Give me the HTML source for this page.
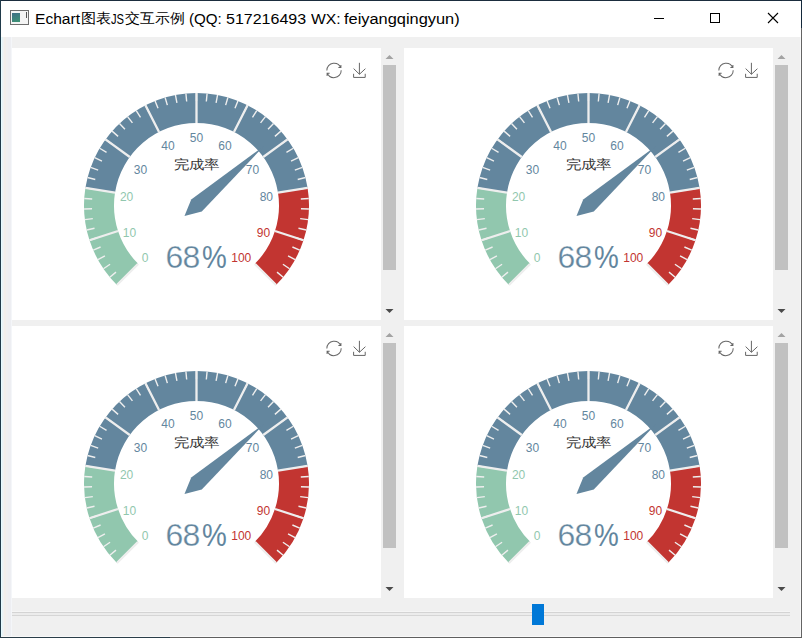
<!DOCTYPE html>
<html><head><meta charset="utf-8">
<style>
*{margin:0;padding:0;box-sizing:border-box}
html,body{width:802px;height:638px;overflow:hidden;background:#f0f0f0;font-family:"Liberation Sans",sans-serif}
.a{position:absolute}
#win{position:absolute;left:0;top:0;width:802px;height:638px;background:#f0f0f0}
#tb{position:absolute;left:1px;top:1px;width:800px;height:36px;background:#fff}
.ts{position:absolute;top:10.5px;font-size:14px;line-height:16px;color:#000;white-space:nowrap;transform-origin:0 0}
.pn{position:absolute;width:369px;height:272px;background:#fff}
.sb{position:absolute;width:17px;height:272px;background:#f0f0f0}
.th{position:absolute;left:2px;top:17px;width:13px;height:205px;background:#c1c1c1}
.lb{font-size:12px}
.tt{font-size:15px;fill:#333}
.dt{font-size:32px;fill:#63869e;stroke:#fff;stroke-width:0.3px}
svg{position:absolute;left:0;top:0}
</style></head><body>
<div id="win"></div>
<div class="a" style="left:0;top:0;width:802px;height:1px;background:#1b2d3e"></div>
<div class="a" style="left:0;top:0;width:1px;height:638px;background:#203a4a"></div>
<div class="a" style="left:801px;top:0;width:1px;height:28px;background:#13283a"></div>
<div class="a" style="left:801px;top:28px;width:1px;height:610px;background:#646464"></div>
<div class="a" style="left:0;top:637px;width:170px;height:1px;background:#2a3d48"></div>
<div class="a" style="left:170px;top:637px;width:632px;height:1px;background:#5e5e5e"></div>
<div class="a" style="left:1px;top:37px;width:11px;height:600px;background:linear-gradient(90deg,#e6fbff 0,#e6fbff 1px,#e8f2f6 1px,#e8f2f6 2px,#f0f2f2 2px,#f0f2f2 3px,#f2eeeb 3px,#f2eeeb 5px,#efeff0 5px,#efeff0 7px,#edeef2 7px,#edeef2 10px,#f4f6f9 10px)"></div>
<div class="a" style="left:1px;top:636px;width:800px;height:1px;background:#f8f8f8"></div>
<div class="a" style="left:800px;top:37px;width:1px;height:600px;background:#f8f8f8"></div>
<div id="tb"></div>
<div class="a" style="left:10px;top:10px;width:19px;height:15px;border:1px solid #6e6e6e;background:#f4f4f4"></div>
<div class="a" style="left:12px;top:13px;width:8px;height:9px;background:linear-gradient(160deg,#3f6e86,#3d9474)"></div>
<div class="a" style="left:26px;top:12px;width:1px;height:6px;background:#555"></div>
<div class="ts" style="left:35.39px;top:10.5px;transform:scaleX(1.1128)">Echart</div>
<div class="ts" style="left:81.12px;top:9.5px;transform:scaleX(1.0769)">图表</div>
<div class="ts" style="left:110.50px;top:10.5px;transform:scaleX(0.8000)">JS</div>
<div class="ts" style="left:124.94px;top:9.5px;transform:scaleX(1.0611)">交互示例</div>
<div class="ts" style="left:189.42px;top:10.5px;transform:scaleX(1.0821)">(QQ:</div>
<div class="ts" style="left:225.66px;top:10.5px;transform:scaleX(1.1435)">517216493</div>
<div class="ts" style="left:310.88px;top:10.5px;transform:scaleX(1.1200)">WX:</div>
<div class="ts" style="left:343.83px;top:10.5px;transform:scaleX(1.1704)">feiyangqingyun)</div>

<div class="a" style="left:654px;top:18px;width:10px;height:1px;background:#000"></div>
<div class="a" style="left:710px;top:13px;width:10px;height:10px;border:1px solid #000"></div>
<svg class="a" style="left:767px;top:12px" width="12" height="12" viewBox="0 0 12 12"><path d="M1 1L11 11M11 1L1 11" stroke="#000" stroke-width="1.1" fill="none"/></svg>
<div class="pn" style="left:12px;top:48px"></div>
<div class="sb" style="left:381px;top:48px"><div class="th"></div><svg style="left:0;top:0" width="17" height="272"><path d="M4.5 11L8.5 7L12.5 11Z" fill="#a3a3a3"/><path d="M4.5 261L8.5 265L12.5 261Z" fill="#4a4a4a"/></svg></div>
<div class="pn" style="left:404px;top:48px"></div>
<div class="sb" style="left:773px;top:48px"><div class="th"></div><svg style="left:0;top:0" width="17" height="272"><path d="M4.5 11L8.5 7L12.5 11Z" fill="#a3a3a3"/><path d="M4.5 261L8.5 265L12.5 261Z" fill="#4a4a4a"/></svg></div>
<div class="pn" style="left:12px;top:326px"></div>
<div class="sb" style="left:381px;top:326px"><div class="th"></div><svg style="left:0;top:0" width="17" height="272"><path d="M4.5 11L8.5 7L12.5 11Z" fill="#a3a3a3"/><path d="M4.5 261L8.5 265L12.5 261Z" fill="#4a4a4a"/></svg></div>
<div class="pn" style="left:404px;top:326px"></div>
<div class="sb" style="left:773px;top:326px"><div class="th"></div><svg style="left:0;top:0" width="17" height="272"><path d="M4.5 11L8.5 7L12.5 11Z" fill="#a3a3a3"/><path d="M4.5 261L8.5 265L12.5 261Z" fill="#4a4a4a"/></svg></div>
<div class="a" style="left:12px;top:611px;width:778px;height:1px;background:#f5f5f5"></div>
<div class="a" style="left:12px;top:612px;width:778px;height:1px;background:#d4d4d4"></div>
<div class="a" style="left:12px;top:613px;width:778px;height:2px;background:#ececec"></div>
<div class="a" style="left:12px;top:615px;width:778px;height:1px;background:#d6d6d6"></div>
<div class="a" style="left:532px;top:604px;width:12px;height:21px;background:#0078d7"></div>
<svg width="802" height="638">
<path d="M116.95 285.05A112.5 112.5 0 0 1 85.39 187.9L115.02 192.59A82.5 82.5 0 0 0 138.16 263.84Z" fill="#91c7ae"/>
<path d="M85.39 187.9A112.5 112.5 0 0 1 307.61 187.9L277.98 192.59A82.5 82.5 0 0 0 115.02 192.59Z" fill="#63869e"/>
<path d="M307.61 187.9A112.5 112.5 0 0 1 276.05 285.05L254.84 263.84A82.5 82.5 0 0 0 277.98 192.59Z" fill="#c23531"/>
<path d="M116.95 285.05L122.61 279.39M109.82 277.21L115.98 272.11M103.45 268.73L110.07 264.24M97.92 259.7L104.93 255.84M93.25 250.18L100.59 247M89.51 240.26L97.11 237.79M89.51 240.26L97.11 237.79M86.71 230.04L94.52 228.3M84.89 219.6L92.82 218.6M84.06 209.03L92.05 208.78M84.22 198.44L92.21 198.94M85.39 187.9L93.29 189.15M85.39 187.9L93.29 189.15M87.53 177.52L95.28 179.51M90.65 167.39L98.18 170.1M94.71 157.6L101.95 161.01M99.67 148.23L106.55 152.31M105.49 139.37L111.96 144.08M105.49 139.37L111.96 144.08M112.11 131.1L118.11 136.39M119.49 123.49L124.96 129.32M127.55 116.61L132.45 122.93M136.22 110.51L140.51 117.27M145.43 105.26L149.06 112.39M145.43 105.26L149.06 112.39M155.09 100.9L158.03 108.34M165.11 97.47L167.35 105.15M175.42 94.99L176.92 102.85M185.91 93.5L186.67 101.46M196.5 93L196.5 101M196.5 93L196.5 101M207.09 93.5L206.33 101.46M217.58 94.99L216.08 102.85M227.89 97.47L225.65 105.15M237.91 100.9L234.97 108.34M247.57 105.26L243.94 112.39M247.57 105.26L243.94 112.39M256.78 110.51L252.49 117.27M265.45 116.61L260.55 122.93M273.51 123.49L268.04 129.32M280.89 131.1L274.89 136.39M287.51 139.37L281.04 144.08M287.51 139.37L281.04 144.08M293.33 148.23L286.45 152.31M298.29 157.6L291.05 161.01M302.35 167.39L294.82 170.1M305.47 177.52L297.72 179.51M307.61 187.9L299.71 189.15M307.61 187.9L299.71 189.15M308.78 198.44L300.79 198.94M308.94 209.03L300.95 208.78M308.11 219.6L300.18 218.6M306.29 230.04L298.48 228.3M303.49 240.26L295.89 237.79M303.49 240.26L295.89 237.79M299.75 250.18L292.41 247M295.08 259.7L288.07 255.84M289.55 268.73L282.93 264.24M283.18 277.21L277.02 272.11M276.05 285.05L270.39 279.39" stroke="#eee" stroke-width="1.4" fill="none"/>
<path d="M116.95 285.05L138.16 263.84M89.51 240.26L118.04 230.99M85.39 187.9L115.02 192.59M105.49 139.37L129.76 157.01M145.43 105.26L159.05 131.99M196.5 93L196.5 123M247.57 105.26L233.95 131.99M287.51 139.37L263.24 157.01M307.61 187.9L277.98 192.59M303.49 240.26L274.96 230.99M276.05 285.05L254.84 263.84" stroke="#eee" stroke-width="2.3" fill="none"/>
<text x="141.7" y="261.9" text-anchor="start" fill="#91c7ae" class="lb">0</text>
<text x="122.79" y="236.95" text-anchor="start" fill="#91c7ae" class="lb">10</text>
<text x="119.95" y="200.88" text-anchor="start" fill="#91c7ae" class="lb">20</text>
<text x="133.8" y="173.55" text-anchor="start" fill="#63869e" class="lb">30</text>
<text x="161.32" y="150.05" text-anchor="start" fill="#63869e" class="lb">40</text>
<text x="196.5" y="141.6" text-anchor="middle" fill="#63869e" class="lb">50</text>
<text x="231.68" y="150.05" text-anchor="end" fill="#63869e" class="lb">60</text>
<text x="259.2" y="173.55" text-anchor="end" fill="#63869e" class="lb">70</text>
<text x="273.05" y="200.88" text-anchor="end" fill="#63869e" class="lb">80</text>
<text x="270.21" y="236.95" text-anchor="end" fill="#c23531" class="lb">90</text>
<text x="251.3" y="261.9" text-anchor="end" fill="#c23531" class="lb">100</text>
<text transform="translate(196.4 169.2) scale(1.02 0.86)" text-anchor="middle" class="tt">完成率</text>
<text x="165.6" y="268.1" class="dt" letter-spacing="-0.8">68</text>
<text transform="translate(201.9 268.1) scale(0.87 1)" class="dt" style="stroke-width:0">%</text>
<path d="M184.5 216.08L191.21 199.5L264.01 145.98L201.79 211.5Z" fill="#63869e"/>
<g transform="translate(326.3 62.7) scale(0.25729)"><path d="M47,18.9h9.8V8.7M56.3,20.1C52.1,9,40.5,0.6,26.8,2.1C12.6,3.7,1.6,16.2,2.1,30.6M13,41.1H3.1v10.2M3.7,39.9c4.2,11.1,15.8,19.5,29.5,18c14.2-1.6,25.2-14.1,24.7-28.5" fill="none" stroke="#666" stroke-width="3.887"/></g>
<g transform="translate(352.51 62.8) scale(0.23600 0.25200)"><path d="M4.7,22.9L29.3,45.5L54.7,23.4M4.6,43.6L4.6,58L53.8,58L53.8,43.6M29.2,45.1L29.2,0" fill="none" stroke="#666" stroke-width="1" vector-effect="non-scaling-stroke"/></g>
<path d="M508.95 285.05A112.5 112.5 0 0 1 477.39 187.9L507.02 192.59A82.5 82.5 0 0 0 530.16 263.84Z" fill="#91c7ae"/>
<path d="M477.39 187.9A112.5 112.5 0 0 1 699.61 187.9L669.98 192.59A82.5 82.5 0 0 0 507.02 192.59Z" fill="#63869e"/>
<path d="M699.61 187.9A112.5 112.5 0 0 1 668.05 285.05L646.84 263.84A82.5 82.5 0 0 0 669.98 192.59Z" fill="#c23531"/>
<path d="M508.95 285.05L514.61 279.39M501.82 277.21L507.98 272.11M495.45 268.73L502.07 264.24M489.92 259.7L496.93 255.84M485.25 250.18L492.59 247M481.51 240.26L489.11 237.79M481.51 240.26L489.11 237.79M478.71 230.04L486.52 228.3M476.89 219.6L484.82 218.6M476.06 209.03L484.05 208.78M476.22 198.44L484.21 198.94M477.39 187.9L485.29 189.15M477.39 187.9L485.29 189.15M479.53 177.52L487.28 179.51M482.65 167.39L490.18 170.1M486.71 157.6L493.95 161.01M491.67 148.23L498.55 152.31M497.49 139.37L503.96 144.08M497.49 139.37L503.96 144.08M504.11 131.1L510.11 136.39M511.49 123.49L516.96 129.32M519.55 116.61L524.45 122.93M528.22 110.51L532.51 117.27M537.43 105.26L541.06 112.39M537.43 105.26L541.06 112.39M547.09 100.9L550.03 108.34M557.11 97.47L559.35 105.15M567.42 94.99L568.92 102.85M577.91 93.5L578.67 101.46M588.5 93L588.5 101M588.5 93L588.5 101M599.09 93.5L598.33 101.46M609.58 94.99L608.08 102.85M619.89 97.47L617.65 105.15M629.91 100.9L626.97 108.34M639.57 105.26L635.94 112.39M639.57 105.26L635.94 112.39M648.78 110.51L644.49 117.27M657.45 116.61L652.55 122.93M665.51 123.49L660.04 129.32M672.89 131.1L666.89 136.39M679.51 139.37L673.04 144.08M679.51 139.37L673.04 144.08M685.33 148.23L678.45 152.31M690.29 157.6L683.05 161.01M694.35 167.39L686.82 170.1M697.47 177.52L689.72 179.51M699.61 187.9L691.71 189.15M699.61 187.9L691.71 189.15M700.78 198.44L692.79 198.94M700.94 209.03L692.95 208.78M700.11 219.6L692.18 218.6M698.29 230.04L690.48 228.3M695.49 240.26L687.89 237.79M695.49 240.26L687.89 237.79M691.75 250.18L684.41 247M687.08 259.7L680.07 255.84M681.55 268.73L674.93 264.24M675.18 277.21L669.02 272.11M668.05 285.05L662.39 279.39" stroke="#eee" stroke-width="1.4" fill="none"/>
<path d="M508.95 285.05L530.16 263.84M481.51 240.26L510.04 230.99M477.39 187.9L507.02 192.59M497.49 139.37L521.76 157.01M537.43 105.26L551.05 131.99M588.5 93L588.5 123M639.57 105.26L625.95 131.99M679.51 139.37L655.24 157.01M699.61 187.9L669.98 192.59M695.49 240.26L666.96 230.99M668.05 285.05L646.84 263.84" stroke="#eee" stroke-width="2.3" fill="none"/>
<text x="533.7" y="261.9" text-anchor="start" fill="#91c7ae" class="lb">0</text>
<text x="514.79" y="236.95" text-anchor="start" fill="#91c7ae" class="lb">10</text>
<text x="511.95" y="200.88" text-anchor="start" fill="#91c7ae" class="lb">20</text>
<text x="525.8" y="173.55" text-anchor="start" fill="#63869e" class="lb">30</text>
<text x="553.32" y="150.05" text-anchor="start" fill="#63869e" class="lb">40</text>
<text x="588.5" y="141.6" text-anchor="middle" fill="#63869e" class="lb">50</text>
<text x="623.68" y="150.05" text-anchor="end" fill="#63869e" class="lb">60</text>
<text x="651.2" y="173.55" text-anchor="end" fill="#63869e" class="lb">70</text>
<text x="665.05" y="200.88" text-anchor="end" fill="#63869e" class="lb">80</text>
<text x="662.21" y="236.95" text-anchor="end" fill="#c23531" class="lb">90</text>
<text x="643.3" y="261.9" text-anchor="end" fill="#c23531" class="lb">100</text>
<text transform="translate(588.4 169.2) scale(1.02 0.86)" text-anchor="middle" class="tt">完成率</text>
<text x="557.6" y="268.1" class="dt" letter-spacing="-0.8">68</text>
<text transform="translate(593.9 268.1) scale(0.87 1)" class="dt" style="stroke-width:0">%</text>
<path d="M576.5 216.08L583.21 199.5L656.01 145.98L593.79 211.5Z" fill="#63869e"/>
<g transform="translate(718.3 62.7) scale(0.25729)"><path d="M47,18.9h9.8V8.7M56.3,20.1C52.1,9,40.5,0.6,26.8,2.1C12.6,3.7,1.6,16.2,2.1,30.6M13,41.1H3.1v10.2M3.7,39.9c4.2,11.1,15.8,19.5,29.5,18c14.2-1.6,25.2-14.1,24.7-28.5" fill="none" stroke="#666" stroke-width="3.887"/></g>
<g transform="translate(744.51 62.8) scale(0.23600 0.25200)"><path d="M4.7,22.9L29.3,45.5L54.7,23.4M4.6,43.6L4.6,58L53.8,58L53.8,43.6M29.2,45.1L29.2,0" fill="none" stroke="#666" stroke-width="1" vector-effect="non-scaling-stroke"/></g>
<path d="M116.95 563.05A112.5 112.5 0 0 1 85.39 465.9L115.02 470.59A82.5 82.5 0 0 0 138.16 541.84Z" fill="#91c7ae"/>
<path d="M85.39 465.9A112.5 112.5 0 0 1 307.61 465.9L277.98 470.59A82.5 82.5 0 0 0 115.02 470.59Z" fill="#63869e"/>
<path d="M307.61 465.9A112.5 112.5 0 0 1 276.05 563.05L254.84 541.84A82.5 82.5 0 0 0 277.98 470.59Z" fill="#c23531"/>
<path d="M116.95 563.05L122.61 557.39M109.82 555.21L115.98 550.11M103.45 546.73L110.07 542.24M97.92 537.7L104.93 533.84M93.25 528.18L100.59 525M89.51 518.26L97.11 515.79M89.51 518.26L97.11 515.79M86.71 508.04L94.52 506.3M84.89 497.6L92.82 496.6M84.06 487.03L92.05 486.78M84.22 476.44L92.21 476.94M85.39 465.9L93.29 467.15M85.39 465.9L93.29 467.15M87.53 455.52L95.28 457.51M90.65 445.39L98.18 448.1M94.71 435.6L101.95 439.01M99.67 426.23L106.55 430.31M105.49 417.37L111.96 422.08M105.49 417.37L111.96 422.08M112.11 409.1L118.11 414.39M119.49 401.49L124.96 407.32M127.55 394.61L132.45 400.93M136.22 388.51L140.51 395.27M145.43 383.26L149.06 390.39M145.43 383.26L149.06 390.39M155.09 378.9L158.03 386.34M165.11 375.47L167.35 383.15M175.42 372.99L176.92 380.85M185.91 371.5L186.67 379.46M196.5 371L196.5 379M196.5 371L196.5 379M207.09 371.5L206.33 379.46M217.58 372.99L216.08 380.85M227.89 375.47L225.65 383.15M237.91 378.9L234.97 386.34M247.57 383.26L243.94 390.39M247.57 383.26L243.94 390.39M256.78 388.51L252.49 395.27M265.45 394.61L260.55 400.93M273.51 401.49L268.04 407.32M280.89 409.1L274.89 414.39M287.51 417.37L281.04 422.08M287.51 417.37L281.04 422.08M293.33 426.23L286.45 430.31M298.29 435.6L291.05 439.01M302.35 445.39L294.82 448.1M305.47 455.52L297.72 457.51M307.61 465.9L299.71 467.15M307.61 465.9L299.71 467.15M308.78 476.44L300.79 476.94M308.94 487.03L300.95 486.78M308.11 497.6L300.18 496.6M306.29 508.04L298.48 506.3M303.49 518.26L295.89 515.79M303.49 518.26L295.89 515.79M299.75 528.18L292.41 525M295.08 537.7L288.07 533.84M289.55 546.73L282.93 542.24M283.18 555.21L277.02 550.11M276.05 563.05L270.39 557.39" stroke="#eee" stroke-width="1.4" fill="none"/>
<path d="M116.95 563.05L138.16 541.84M89.51 518.26L118.04 508.99M85.39 465.9L115.02 470.59M105.49 417.37L129.76 435.01M145.43 383.26L159.05 409.99M196.5 371L196.5 401M247.57 383.26L233.95 409.99M287.51 417.37L263.24 435.01M307.61 465.9L277.98 470.59M303.49 518.26L274.96 508.99M276.05 563.05L254.84 541.84" stroke="#eee" stroke-width="2.3" fill="none"/>
<text x="141.7" y="539.9" text-anchor="start" fill="#91c7ae" class="lb">0</text>
<text x="122.79" y="514.95" text-anchor="start" fill="#91c7ae" class="lb">10</text>
<text x="119.95" y="478.88" text-anchor="start" fill="#91c7ae" class="lb">20</text>
<text x="133.8" y="451.55" text-anchor="start" fill="#63869e" class="lb">30</text>
<text x="161.32" y="428.05" text-anchor="start" fill="#63869e" class="lb">40</text>
<text x="196.5" y="419.6" text-anchor="middle" fill="#63869e" class="lb">50</text>
<text x="231.68" y="428.05" text-anchor="end" fill="#63869e" class="lb">60</text>
<text x="259.2" y="451.55" text-anchor="end" fill="#63869e" class="lb">70</text>
<text x="273.05" y="478.88" text-anchor="end" fill="#63869e" class="lb">80</text>
<text x="270.21" y="514.95" text-anchor="end" fill="#c23531" class="lb">90</text>
<text x="251.3" y="539.9" text-anchor="end" fill="#c23531" class="lb">100</text>
<text transform="translate(196.4 447.2) scale(1.02 0.86)" text-anchor="middle" class="tt">完成率</text>
<text x="165.6" y="546.1" class="dt" letter-spacing="-0.8">68</text>
<text transform="translate(201.9 546.1) scale(0.87 1)" class="dt" style="stroke-width:0">%</text>
<path d="M184.5 494.08L191.21 477.5L264.01 423.98L201.79 489.5Z" fill="#63869e"/>
<g transform="translate(326.3 340.7) scale(0.25729)"><path d="M47,18.9h9.8V8.7M56.3,20.1C52.1,9,40.5,0.6,26.8,2.1C12.6,3.7,1.6,16.2,2.1,30.6M13,41.1H3.1v10.2M3.7,39.9c4.2,11.1,15.8,19.5,29.5,18c14.2-1.6,25.2-14.1,24.7-28.5" fill="none" stroke="#666" stroke-width="3.887"/></g>
<g transform="translate(352.51 340.8) scale(0.23600 0.25200)"><path d="M4.7,22.9L29.3,45.5L54.7,23.4M4.6,43.6L4.6,58L53.8,58L53.8,43.6M29.2,45.1L29.2,0" fill="none" stroke="#666" stroke-width="1" vector-effect="non-scaling-stroke"/></g>
<path d="M508.95 563.05A112.5 112.5 0 0 1 477.39 465.9L507.02 470.59A82.5 82.5 0 0 0 530.16 541.84Z" fill="#91c7ae"/>
<path d="M477.39 465.9A112.5 112.5 0 0 1 699.61 465.9L669.98 470.59A82.5 82.5 0 0 0 507.02 470.59Z" fill="#63869e"/>
<path d="M699.61 465.9A112.5 112.5 0 0 1 668.05 563.05L646.84 541.84A82.5 82.5 0 0 0 669.98 470.59Z" fill="#c23531"/>
<path d="M508.95 563.05L514.61 557.39M501.82 555.21L507.98 550.11M495.45 546.73L502.07 542.24M489.92 537.7L496.93 533.84M485.25 528.18L492.59 525M481.51 518.26L489.11 515.79M481.51 518.26L489.11 515.79M478.71 508.04L486.52 506.3M476.89 497.6L484.82 496.6M476.06 487.03L484.05 486.78M476.22 476.44L484.21 476.94M477.39 465.9L485.29 467.15M477.39 465.9L485.29 467.15M479.53 455.52L487.28 457.51M482.65 445.39L490.18 448.1M486.71 435.6L493.95 439.01M491.67 426.23L498.55 430.31M497.49 417.37L503.96 422.08M497.49 417.37L503.96 422.08M504.11 409.1L510.11 414.39M511.49 401.49L516.96 407.32M519.55 394.61L524.45 400.93M528.22 388.51L532.51 395.27M537.43 383.26L541.06 390.39M537.43 383.26L541.06 390.39M547.09 378.9L550.03 386.34M557.11 375.47L559.35 383.15M567.42 372.99L568.92 380.85M577.91 371.5L578.67 379.46M588.5 371L588.5 379M588.5 371L588.5 379M599.09 371.5L598.33 379.46M609.58 372.99L608.08 380.85M619.89 375.47L617.65 383.15M629.91 378.9L626.97 386.34M639.57 383.26L635.94 390.39M639.57 383.26L635.94 390.39M648.78 388.51L644.49 395.27M657.45 394.61L652.55 400.93M665.51 401.49L660.04 407.32M672.89 409.1L666.89 414.39M679.51 417.37L673.04 422.08M679.51 417.37L673.04 422.08M685.33 426.23L678.45 430.31M690.29 435.6L683.05 439.01M694.35 445.39L686.82 448.1M697.47 455.52L689.72 457.51M699.61 465.9L691.71 467.15M699.61 465.9L691.71 467.15M700.78 476.44L692.79 476.94M700.94 487.03L692.95 486.78M700.11 497.6L692.18 496.6M698.29 508.04L690.48 506.3M695.49 518.26L687.89 515.79M695.49 518.26L687.89 515.79M691.75 528.18L684.41 525M687.08 537.7L680.07 533.84M681.55 546.73L674.93 542.24M675.18 555.21L669.02 550.11M668.05 563.05L662.39 557.39" stroke="#eee" stroke-width="1.4" fill="none"/>
<path d="M508.95 563.05L530.16 541.84M481.51 518.26L510.04 508.99M477.39 465.9L507.02 470.59M497.49 417.37L521.76 435.01M537.43 383.26L551.05 409.99M588.5 371L588.5 401M639.57 383.26L625.95 409.99M679.51 417.37L655.24 435.01M699.61 465.9L669.98 470.59M695.49 518.26L666.96 508.99M668.05 563.05L646.84 541.84" stroke="#eee" stroke-width="2.3" fill="none"/>
<text x="533.7" y="539.9" text-anchor="start" fill="#91c7ae" class="lb">0</text>
<text x="514.79" y="514.95" text-anchor="start" fill="#91c7ae" class="lb">10</text>
<text x="511.95" y="478.88" text-anchor="start" fill="#91c7ae" class="lb">20</text>
<text x="525.8" y="451.55" text-anchor="start" fill="#63869e" class="lb">30</text>
<text x="553.32" y="428.05" text-anchor="start" fill="#63869e" class="lb">40</text>
<text x="588.5" y="419.6" text-anchor="middle" fill="#63869e" class="lb">50</text>
<text x="623.68" y="428.05" text-anchor="end" fill="#63869e" class="lb">60</text>
<text x="651.2" y="451.55" text-anchor="end" fill="#63869e" class="lb">70</text>
<text x="665.05" y="478.88" text-anchor="end" fill="#63869e" class="lb">80</text>
<text x="662.21" y="514.95" text-anchor="end" fill="#c23531" class="lb">90</text>
<text x="643.3" y="539.9" text-anchor="end" fill="#c23531" class="lb">100</text>
<text transform="translate(588.4 447.2) scale(1.02 0.86)" text-anchor="middle" class="tt">完成率</text>
<text x="557.6" y="546.1" class="dt" letter-spacing="-0.8">68</text>
<text transform="translate(593.9 546.1) scale(0.87 1)" class="dt" style="stroke-width:0">%</text>
<path d="M576.5 494.08L583.21 477.5L656.01 423.98L593.79 489.5Z" fill="#63869e"/>
<g transform="translate(718.3 340.7) scale(0.25729)"><path d="M47,18.9h9.8V8.7M56.3,20.1C52.1,9,40.5,0.6,26.8,2.1C12.6,3.7,1.6,16.2,2.1,30.6M13,41.1H3.1v10.2M3.7,39.9c4.2,11.1,15.8,19.5,29.5,18c14.2-1.6,25.2-14.1,24.7-28.5" fill="none" stroke="#666" stroke-width="3.887"/></g>
<g transform="translate(744.51 340.8) scale(0.23600 0.25200)"><path d="M4.7,22.9L29.3,45.5L54.7,23.4M4.6,43.6L4.6,58L53.8,58L53.8,43.6M29.2,45.1L29.2,0" fill="none" stroke="#666" stroke-width="1" vector-effect="non-scaling-stroke"/></g>
</svg>
</body></html>
